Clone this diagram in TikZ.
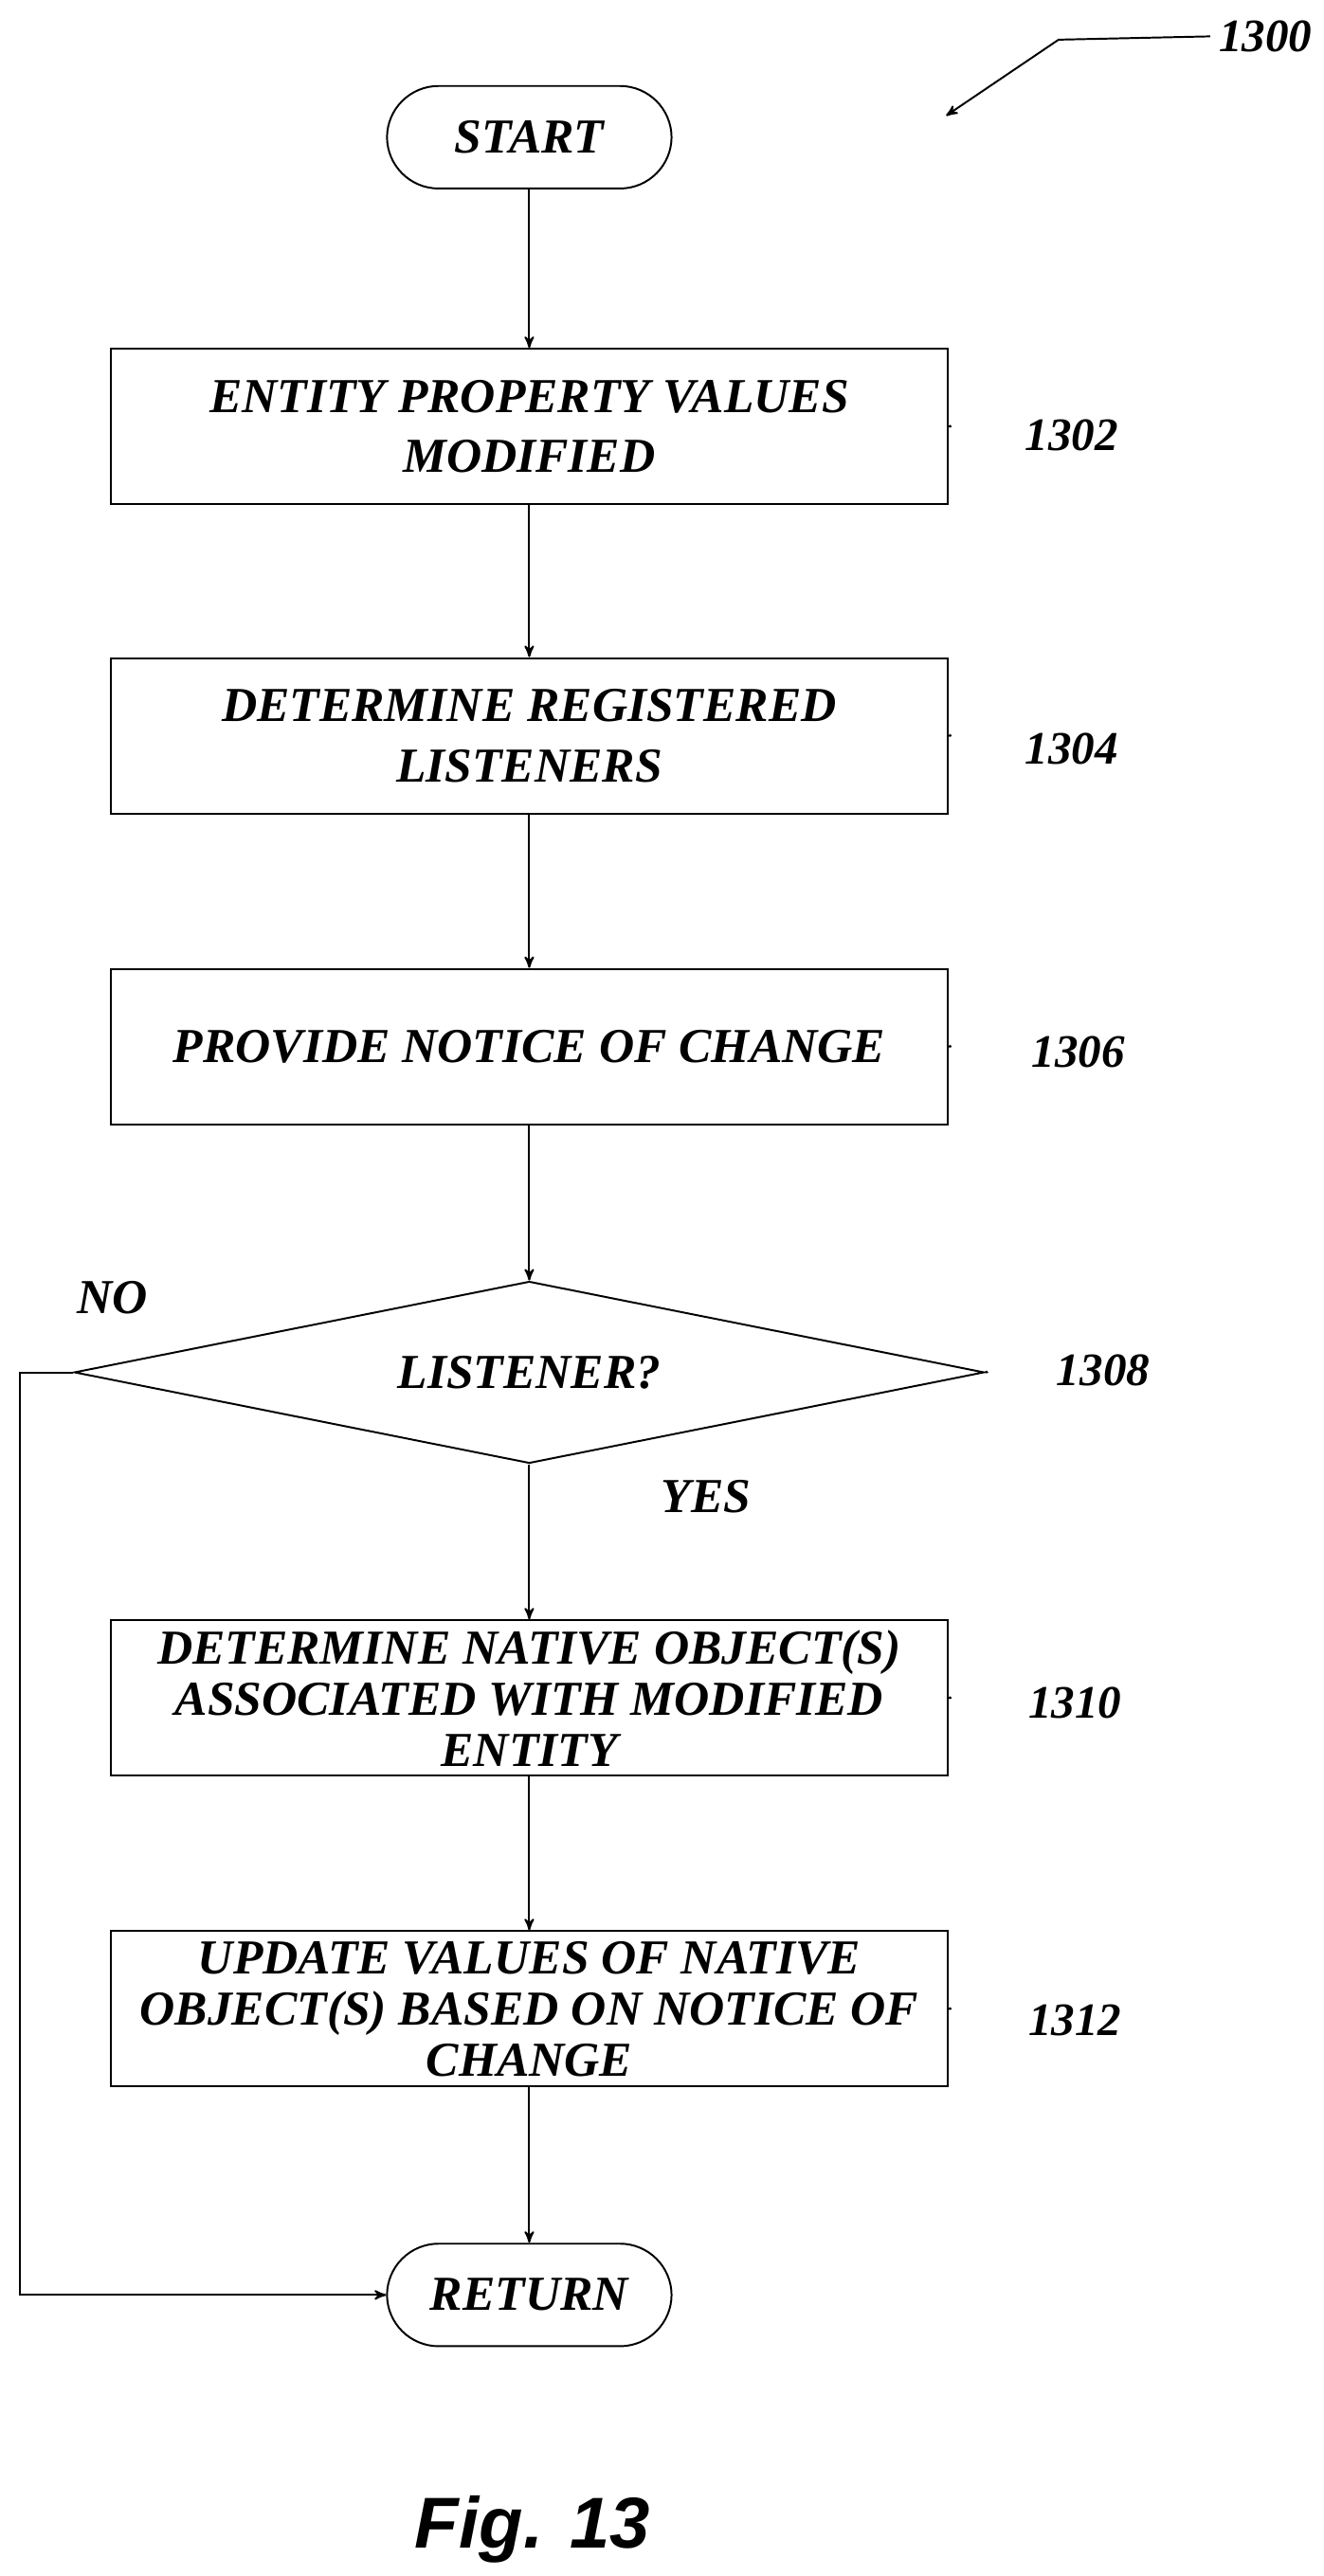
\documentclass[tikz,border=0pt]{standalone}
\usepackage{fontspec}
\setmainfont{Liberation Serif}
\setsansfont{Liberation Sans}
\usetikzlibrary{shapes,arrows}
\usetikzlibrary{positioning}
\tikzset{
    step box/.style={rectangle,draw,thick,minimum width=12.65cm,minimum height=2.35cm,align=center,inner sep=2pt},
    term node/.style={rectangle,rounded corners=0.78cm,draw,thick,minimum width=4.3cm,minimum height=1.55cm},
    test node/.style={diamond,draw,thick,aspect=5,minimum width=13.75cm,minimum height=2.75cm,inner sep=0pt},
    ref label/.style={font=\fontsize{20}{24}\selectfont\bfseries\itshape},
}
\newcommand{\squig}[2]{%
  \draw[thick] (#1.east) .. controls +(0.7,0.6) and +(-0.6,-0.4) .. +(0.8,-0.35) .. controls +(0.2,0.1) and +(-0.3,-0.5) .. +(1.35,0.35);}
\begin{document}
\begin{tikzpicture}[x=0.025cm,y=-0.025cm,->,>=stealth',thick,
  every node/.style={font=\fontsize{21}{26}\selectfont\bfseries\itshape}]
  \useasboundingbox (0,0) rectangle (800,1558);
  \node[term node] (start) at (320,83) {START};
  \node[step box] (1302) at (320,258) {ENTITY PROPERTY VALUES\\MODIFIED};
  \node[step box] (1304) at (320,445) {DETERMINE REGISTERED\\LISTENERS};
  \node[step box] (1306) at (320,633) {PROVIDE NOTICE OF CHANGE};
  \node[test node] (1308) at (320,830) {LISTENER?};
  \node[step box] (1310) at (320,1027) {DETERMINE NATIVE OBJECT(S)\\[-4pt]ASSOCIATED WITH MODIFIED\\[-4pt]ENTITY};
  \node[step box] (1312) at (320,1215) {UPDATE VALUES OF NATIVE\\[-4pt]OBJECT(S) BASED ON NOTICE OF\\[-4pt]CHANGE};
  \node[term node] (return) at (320,1388) {RETURN};
  \coordinate (nocorner) at (12,830);
  \coordinate (nobottom) at (12,1388);

  \path
    (start) edge (1302)
    (1302) edge (1304)
    (1304) edge (1306)
    (1306) edge (1308)
    (1308) edge (1310)
    (1310) edge (1312)
    (1312) edge (return);
  \draw (1308.west) -- (nocorner) -- (nobottom) -- (return.west);
  \node at (68,785) {NO};
  \node at (427,905) {YES};

  \begin{scope}[-]
  \squig{1302}{}
  \squig{1304}{}
  \squig{1306}{}
  \squig{1308}{}
  \squig{1310}{}
  \squig{1312}{}
  \end{scope}
  \node[ref label] at (648,263) {1302};
  \node[ref label] at (648,453) {1304};
  \node[ref label] at (652,636) {1306};
  \node[ref label] at (667,829) {1308};
  \node[ref label] at (650,1030) {1310};
  \node[ref label] at (650,1222) {1312};

  \node[ref label] (1300) at (765,22) {1300};
  \draw (1300.west) -- (640,24) -- (572,70);
  \node[font=\fontsize{31}{36}\selectfont\sffamily\bfseries\itshape] (fig) at (322,1530) {Fig. 13};
\end{tikzpicture}
\end{document}
